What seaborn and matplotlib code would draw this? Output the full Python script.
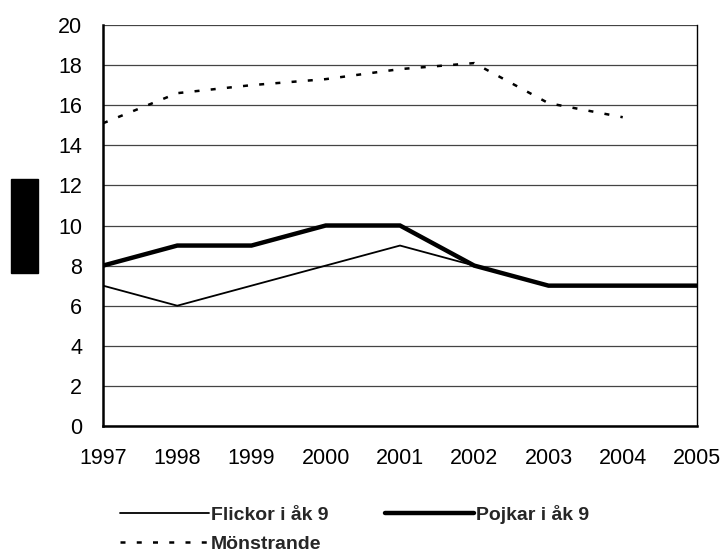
import pandas as pd
import matplotlib.pyplot as plt
import seaborn as sns
from matplotlib.patches import Rectangle

# Data
years = [1997, 1998, 1999, 2000, 2001, 2002, 2003, 2004, 2005]
flickor = [7, 6, 7, 8, 9, 8, 7, 7, 7]
pojkar = [8, 9, 9, 10, 10, 8, 7, 7, 7]
mon_years = [1997, 1998, 1999, 2000, 2001, 2002, 2003, 2004]
monstrande = [15.1, 16.6, 17.0, 17.3, 17.8, 18.1, 16.1, 15.4]

df_f = pd.DataFrame({'År': years, 'Värde': flickor})
df_p = pd.DataFrame({'År': years, 'Värde': pojkar})
df_m = pd.DataFrame({'År': mon_years, 'Värde': monstrande})

sns.set_theme(style='white')
plt.rcParams['font.family'] = ['Liberation Sans', 'DejaVu Sans']

fig = plt.figure(figsize=(7.23, 5.56), dpi=100)
ax = fig.add_axes([103 / 723, 1 - 426 / 556, 594 / 723, 401 / 556])

sns.lineplot(data=df_f, x='År', y='Värde', color='black', linewidth=1.3, ax=ax)
sns.lineplot(data=df_p, x='År', y='Värde', color='black', linewidth=3.2, ax=ax)
sns.lineplot(data=df_m, x='År', y='Värde', color='black', linewidth=1.8, ax=ax)
lines = ax.get_lines()
lines[2].set_dashes((2, 4.5))
for ln in lines:
    ln.set_solid_joinstyle('miter')

ax.set_xlim(1997, 2005)
ax.set_ylim(0, 20)
ax.set_xticks(years)
ax.set_yticks(range(0, 21, 2))
ax.set_xlabel('')
ax.set_ylabel('')
ax.yaxis.grid(True, color='#444444', linewidth=0.9)
ax.set_axisbelow(True)

ax.spines['top'].set_visible(False)
ax.spines['left'].set_color('black')
ax.spines['left'].set_linewidth(1.8)
ax.spines['bottom'].set_color('black')
ax.spines['bottom'].set_linewidth(1.8)
ax.spines['right'].set_color('black')
ax.spines['right'].set_linewidth(1.0)

ax.tick_params(axis='x', direction='inout', length=10, width=1, color='#333333',
               pad=11, labelsize=15.5, labelcolor='black')
ax.tick_params(axis='y', length=0, pad=15, labelsize=15.5, labelcolor='black')

# black box at left (as in reference)
fig.patches.append(Rectangle((11 / 723, 1 - 273 / 556), 27 / 723, 94 / 556,
                             transform=fig.transFigure, color='black'))

handles = [lines[0], lines[2], lines[1]]
labels = ['Flickor i åk 9', 'Mönstrande', 'Pojkar i åk 9']
fig.legend(handles, labels, loc='upper left', bbox_to_anchor=(110 / 723, 1 - 495 / 556),
           ncol=2, frameon=False, handlelength=4.6, handletextpad=0.1,
           columnspacing=2.9, labelspacing=0.6, borderpad=0,
           prop={'weight': 'bold', 'size': 14})

fig.savefig('out.png', dpi=100)
